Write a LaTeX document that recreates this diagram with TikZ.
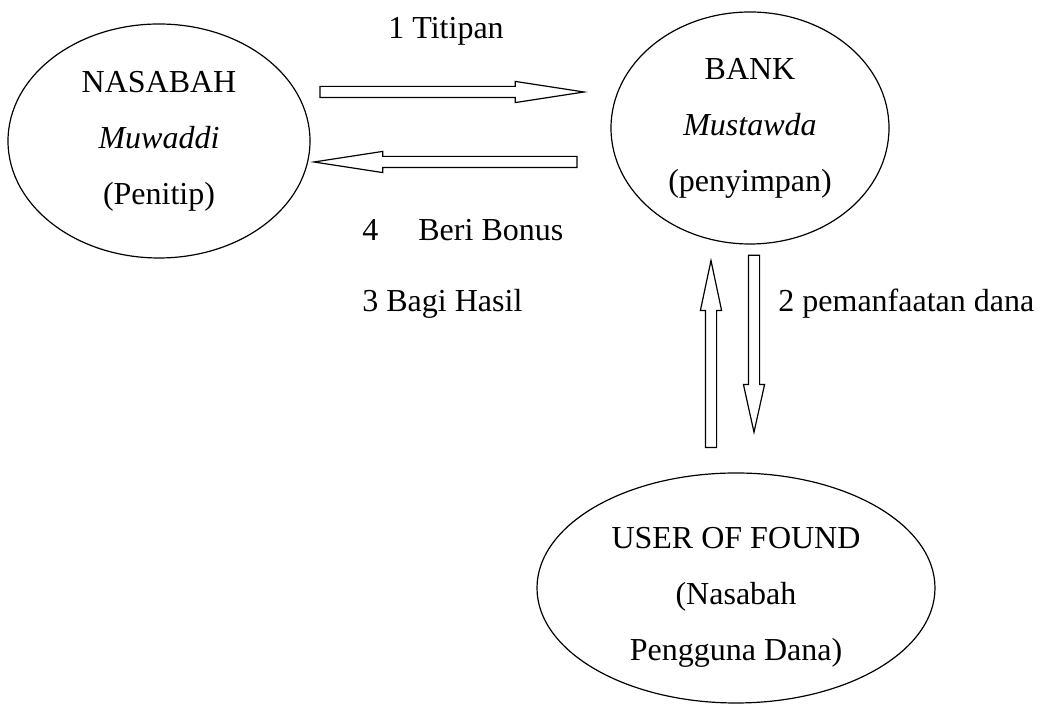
\documentclass[tikz,border=0pt]{standalone}
\usepackage{fontspec}
\setmainfont{Liberation Serif}
\usetikzlibrary{shapes.geometric,shapes.arrows}

\begin{document}
\begin{tikzpicture}[
        x=0.5pt, y=-0.5pt,
        party/.style={ellipse, draw, line width=0.6pt, inner sep=0pt, align=center, font=\fontsize{16}{28}\selectfont},
        flow/.style={single arrow, draw, line width=0.6pt, inner xsep=0pt, inner ysep=2.5pt, single arrow head extend=2.5pt, minimum width=10pt, anchor=tip},
        note/.style={anchor=base west, inner sep=0pt, font=\fontsize{16}{19}\selectfont}
    ]
        \useasboundingbox (0,0) rectangle (1041,704);
        \node [party, minimum width=151pt, minimum height=117pt] (nasabah) at (159,141) {NASABAH\\ \textit{Muwaddi}\\ (Penitip)};
        \node [party, minimum width=139pt, minimum height=116pt] (bank) at (750,128) {BANK\\ \textit{Mustawda}\\ (penyimpan)};
        \node [party, minimum width=199pt, minimum height=115pt, label={[align=center, yshift=-4.5pt, font=\fontsize{16}{28}\selectfont]center:USER OF FOUND\\ (Nasabah\\ Pengguna Dana)}] (user) at (736,588) {};

        \node [flow, minimum height=132pt, single arrow tip angle=17.5] (titip) at (588,92) {};
        \node [flow, minimum height=131.5pt, single arrow tip angle=17.5, rotate=180] (bonus) at (310,162) {};
        \node [flow, minimum height=93.5pt, single arrow tip angle=24, rotate=90] (hasil) at (711,257.7) {};
        \node [flow, minimum height=88.5pt, single arrow tip angle=25, rotate=270] (dana) at (754,435) {};

        \node [note] (lbltitip) at (388,39) {1 Titipan};
        \node [note] (lblbonus) at (362,241) {4\hspace{20pt}Beri Bonus};
        \node [note] (lblhasil) at (362,312) {3 Bagi Hasil};
        \node [note] (lbldana) at (778,312) {2 pemanfaatan dana};
    \end{tikzpicture}
\end{document}
